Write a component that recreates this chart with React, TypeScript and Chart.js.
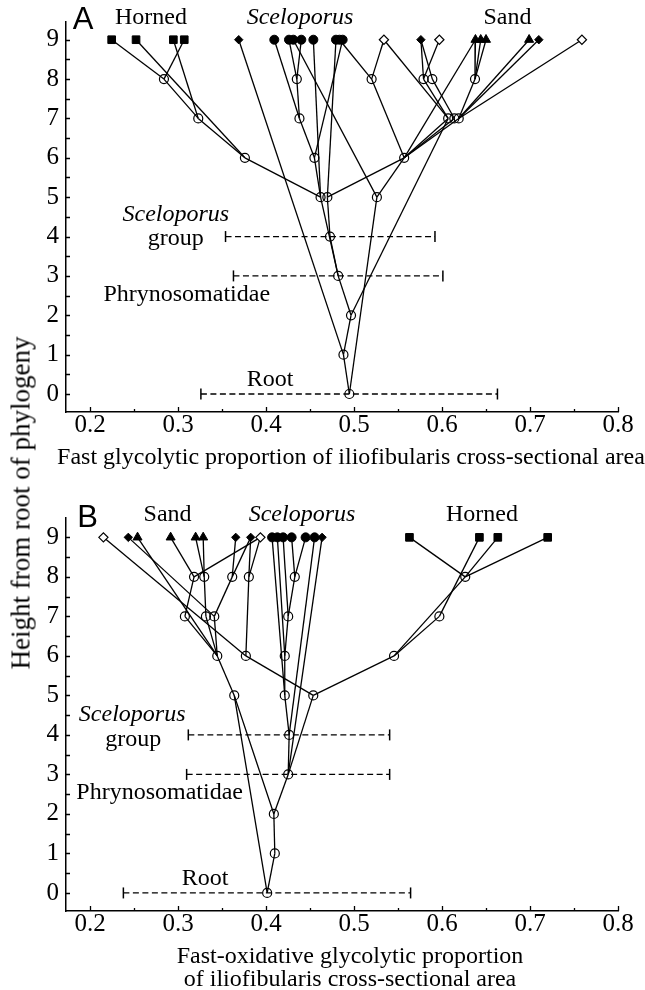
import React, { useEffect, useRef } from "react";
import { Chart, registerables } from "chart.js";

Chart.register(...registerables);

const SERIF = '"Liberation Serif", "Times New Roman", serif';
const SANS = '"Liberation Sans", Arial, sans-serif';

// ---------------- Panel A : fast glycolytic ----------------
const tipXA = [0.2246, 0.2523, 0.2947, 0.3071, 0.369, 0.4094, 0.4261, 0.431, 0.4401, 0.4538, 0.4795, 0.4835, 0.4871, 0.534, 0.576, 0.597, 0.638, 0.644, 0.65, 0.699, 0.71, 0.759];
const tipKindA = ["sq", "sq", "sq", "sq", "fd", "fc", "fc", "fc", "fc", "fc", "fc", "fc", "fc", "od", "fd", "od", "tri", "tri", "tri", "tri", "fd", "od"];
const innerXA = [0.284, 0.435, 0.52, 0.579, 0.589, 0.6375, 0.323, 0.438, 0.607, 0.614, 0.619, 0.376, 0.455, 0.557, 0.462, 0.4697, 0.526, 0.4727, 0.482, 0.4966, 0.488, 0.4947];
const innerHA = [8, 8, 8, 8, 8, 8, 7, 7, 7, 7, 7, 6, 6, 6, 5, 5, 5, 4, 3, 2, 1, 0];
const edgesA = [
  [0, 22], [3, 22], [22, 28], [2, 28], [28, 33], [1, 33], [33, 36],
  [4, 42],
  [5, 29], [6, 23], [8, 23], [23, 29], [29, 34], [12, 34], [34, 36], [9, 36],
  [10, 37], [7, 38], [11, 24], [13, 24], [24, 35], [13, 30],
  [14, 25], [15, 25], [14, 26], [25, 30], [26, 31],
  [16, 27], [17, 27], [18, 27], [27, 32], [16, 35],
  [19, 32], [20, 32], [21, 32],
  [30, 35], [31, 35], [32, 35],
  [35, 37], [35, 38], [30, 41], [38, 43],
  [37, 39], [39, 40], [36, 40], [40, 41], [41, 42], [42, 43],
];
const barYA = [4, 3, 0];
const barLoA = [0.354, 0.363, 0.326];
const barHiA = [0.592, 0.601, 0.663];
const labelTextA = ["A", "Horned", "Sceloporus", "Sand", "Sceloporus", "group", "Phrynosomatidae", "Root"];
const labelXA = [0.192, 0.2693, 0.4386, 0.6744, 0.2975, 0.2975, 0.3099, 0.4045];
const labelYA = [9.477, 9.555, 9.555, 9.555, 4.552, 3.935, 2.521, 0.363];
const labelStyleA = ["sans", "serif", "italic", "serif", "italic", "serif", "serif", "serif"];

// ---------------- Panel B : fast-oxidative glycolytic ----------------
const tipXB = [0.2152, 0.2435, 0.254, 0.2916, 0.32, 0.3286, 0.3656, 0.3826, 0.3936, 0.4069, 0.4129, 0.4194, 0.4291, 0.445, 0.4552, 0.4637, 0.563, 0.6425, 0.6634, 0.7201];
const tipKindB = ["od", "fd", "tri", "tri", "tri", "tri", "fd", "fd", "od", "fc", "fc", "fc", "fc", "fc", "fc", "fd", "sq", "sq", "sq", "sq"];
const innerXB = [0.3182, 0.3298, 0.3616, 0.3805, 0.4327, 0.6264, 0.3078, 0.3317, 0.3412, 0.4252, 0.597, 0.3446, 0.3771, 0.4213, 0.5455, 0.3639, 0.4213, 0.4537, 0.4263, 0.4252, 0.4089, 0.41, 0.4013];
const innerHB = [8, 8, 8, 8, 8, 8, 7, 7, 7, 7, 7, 6, 6, 6, 6, 5, 5, 5, 4, 3, 2, 1, 0];
const edgesB = [
  [0, 32], [1, 28], [2, 31], [3, 20], [8, 20], [20, 26], [4, 21], [5, 21], [21, 27],
  [6, 22], [7, 22], [22, 28], [7, 23], [8, 23], [23, 32],
  [26, 31], [27, 31], [28, 31], [31, 35], [32, 37],
  [12, 24], [13, 24], [24, 29], [11, 29], [29, 33], [10, 33], [33, 36], [9, 36], [36, 38],
  [14, 38], [15, 39],
  [16, 25], [18, 25], [19, 25], [25, 34], [17, 30], [30, 34], [34, 37], [37, 39],
  [38, 39], [39, 40], [35, 40], [35, 42], [40, 41], [41, 42],
];
const barYB = [4, 3, 0];
const barLoB = [0.3117, 0.3098, 0.2379];
const barHiB = [0.5405, 0.5405, 0.5643];
const labelTextB = ["B", "Sand", "Sceloporus", "Horned", "Sceloporus", "group", "Phrynosomatidae", "Root"];
const labelXB = [0.1972, 0.2881, 0.4409, 0.6454, 0.2479, 0.2492, 0.2791, 0.3307];
const labelYB = [9.485, 9.586, 9.586, 9.586, 4.51, 3.876, 2.53, 0.373];
const labelStyleB = ["sans", "serif", "italic", "serif", "italic", "serif", "serif", "serif"];

// shared axis ticks
const xMajor = [0.2, 0.3, 0.4, 0.5, 0.6, 0.7, 0.8];
const xMinor = [0.25, 0.35, 0.45, 0.55, 0.65, 0.75];
const yMajor = [0, 1, 2, 3, 4, 5, 6, 7, 8, 9];
const yMinor = [0.5, 1.5, 2.5, 3.5, 4.5, 5.5, 6.5, 7.5, 8.5];

const markerStyles: Record<string, any> = {
  sq: { pointStyle: "rect", pointRadius: 5.4, pointBackgroundColor: "#000", pointBorderColor: "#000", pointBorderWidth: 1 },
  fc: { pointStyle: "circle", pointRadius: 4.5, pointBackgroundColor: "#000", pointBorderColor: "#000", pointBorderWidth: 1 },
  fd: { pointStyle: "rectRot", pointRadius: 4.2, pointBackgroundColor: "#000", pointBorderColor: "#000", pointBorderWidth: 1 },
  od: { pointStyle: "rectRot", pointRadius: 4.6, pointBackgroundColor: "#fff", pointBorderColor: "#000", pointBorderWidth: 1.2 },
  tri: { pointStyle: "triangle", pointRadius: 5.2, pointBackgroundColor: "#000", pointBorderColor: "#000", pointBorderWidth: 1 },
  oc: { pointStyle: "circle", pointRadius: 4.5, pointBackgroundColor: "rgba(0,0,0,0)", pointBorderColor: "#000", pointBorderWidth: 1.2 },
};

function buildConfig(p: any) {
  const nodeX = [...p.tipX, ...p.innerX];
  const nodeH = [...p.tipX.map(() => 9), ...p.innerH];
  const kinds = [...p.tipKind, ...p.innerX.map(() => "oc")];

  const markerSets = Object.keys(markerStyles).map((k) => ({
    label: k,
    data: nodeX.map((x: number, i: number) => ({ x, y: nodeH[i] })).filter((_: any, i: number) => kinds[i] === k),
    showLine: false,
    order: 0,
    ...markerStyles[k],
  }));

  const edgeSets = p.edges.map((e: number[]) => ({
    label: "edge",
    data: [
      { x: nodeX[e[0]], y: nodeH[e[0]] },
      { x: nodeX[e[1]], y: nodeH[e[1]] },
    ],
    showLine: true,
    borderColor: "#000",
    borderWidth: 1.3,
    pointRadius: 0,
    order: 2,
  }));

  const barSets = p.barY.map((yv: number, i: number) => ({
    label: "ci",
    data: [
      { x: p.barLo[i], y: yv },
      { x: p.barHi[i], y: yv },
    ],
    showLine: true,
    borderColor: "#000",
    borderWidth: 1.3,
    borderDash: [6, 3.5],
    pointStyle: "line",
    pointRotation: 90,
    pointRadius: 5.5,
    pointBorderWidth: 1.5,
    pointBorderColor: "#000",
    order: 1,
  }));

  const textPlugin = {
    id: "panelText",
    afterDraw(chart: any) {
      const { ctx, scales } = chart;
      ctx.save();
      ctx.fillStyle = "#000";
      ctx.textAlign = "center";
      ctx.textBaseline = "middle";
      p.labelText.forEach((t: string, i: number) => {
        const st = p.labelStyle[i];
        ctx.font = st === "sans" ? `31px ${SANS}` : st === "italic" ? `italic 24px ${SERIF}` : `24px ${SERIF}`;
        ctx.fillText(t, scales.x.getPixelForValue(p.labelX[i]), scales.y.getPixelForValue(p.labelY[i]));
      });
      ctx.restore();
    },
  };

  const tickPlugin = {
    id: "innerTicks",
    afterDraw(chart: any) {
      const { ctx, chartArea: ca, scales } = chart;
      ctx.save();
      ctx.strokeStyle = "#000";
      ctx.lineWidth = 1.3;
      ctx.beginPath();
      xMajor.forEach((v) => {
        const px = Math.round(scales.x.getPixelForValue(v)) + 0.5;
        ctx.moveTo(px, ca.bottom);
        ctx.lineTo(px, ca.bottom - 5);
      });
      xMinor.forEach((v) => {
        const px = Math.round(scales.x.getPixelForValue(v)) + 0.5;
        ctx.moveTo(px, ca.bottom);
        ctx.lineTo(px, ca.bottom - 3);
      });
      [...yMajor, ...yMinor].forEach((v) => {
        const py = Math.round(scales.y.getPixelForValue(v)) + 0.5;
        ctx.moveTo(ca.left, py);
        ctx.lineTo(ca.left + 4, py);
      });
      ctx.stroke();
      ctx.restore();
    },
  };

  return {
    type: "scatter",
    data: { datasets: [...markerSets, ...barSets, ...edgeSets] },
    options: {
      animation: false,
      responsive: false,
      maintainAspectRatio: false,
      events: [],
      layout: { padding: { top: p.padTop, right: 27, left: 0, bottom: 0 } },
      plugins: { legend: { display: false }, tooltip: { enabled: false }, title: { display: false } },
      scales: {
        x: {
          type: "linear",
          min: 0.1727,
          max: 0.8,
          afterBuildTicks: (s: any) => {
            s.ticks = xMajor.map((v) => ({ value: v }));
          },
          afterFit: (s: any) => {
            s.height = 33;
          },
          ticks: {
            autoSkip: false,
            maxRotation: 0,
            padding: 1,
            color: "#000",
            font: { family: SERIF, size: 25, lineHeight: 1 },
            callback: (v: any) => Number(v).toFixed(1),
          },
          grid: { display: false, drawTicks: false },
          border: { display: true, color: "#000", width: 1.5 },
        },
        y: {
          type: "linear",
          min: p.yMin,
          max: p.yMax,
          afterBuildTicks: (s: any) => {
            s.ticks = yMajor.map((v) => ({ value: v }));
          },
          afterFit: (s: any) => {
            s.width = 66;
          },
          ticks: {
            autoSkip: false,
            padding: 7,
            color: "#000",
            font: { family: SERIF, size: 25, lineHeight: 1 },
            callback: (v: any) => String(v),
          },
          grid: { display: false, drawTicks: false },
          border: { display: true, color: "#000", width: 1.5 },
        },
      },
    },
    plugins: [textPlugin, tickPlugin],
  };
}

const panelA = {
  tipX: tipXA, tipKind: tipKindA, innerX: innerXA, innerH: innerHA, edges: edgesA,
  barY: barYA, barLo: barLoA, barHi: barHiA,
  labelText: labelTextA, labelX: labelXA, labelY: labelYA, labelStyle: labelStyleA,
  yMin: -0.457, yMax: 9.45, padTop: 22,
};
const panelB = {
  tipX: tipXB, tipKind: tipKindB, innerX: innerXB, innerH: innerHB, edges: edgesB,
  barY: barYB, barLo: barLoB, barHi: barHiB,
  labelText: labelTextB, labelX: labelXB, labelY: labelYB, labelStyle: labelStyleB,
  yMin: -0.457, yMax: 9.49, padTop: 38,
};

function Panel({ cfg, top, height }: { cfg: any; top: number; height: number }) {
  const ref = useRef<HTMLCanvasElement>(null);
  useEffect(() => {
    const chart = new Chart(ref.current as HTMLCanvasElement, buildConfig(cfg) as any);
    return () => chart.destroy();
  }, [cfg]);
  return (
    <canvas
      ref={ref}
      width={645}
      height={height}
      style={{ position: "absolute", left: 0, top, width: 645, height }}
    />
  );
}

const textStyle: React.CSSProperties = {
  position: "absolute",
  fontFamily: SERIF,
  fontSize: 24,
  lineHeight: "24px",
  whiteSpace: "nowrap",
  color: "#000",
  transform: "translate(-50%, -50%)",
};

export default function App() {
  return (
    <div style={{ position: "absolute", left: 0, top: 0, width: 645, height: 990, background: "#fff", overflow: "hidden" }}>
      <Panel cfg={panelA} top={0} height={445} />
      <Panel cfg={panelB} top={480} height={464} />
      <div style={{ ...textStyle, left: 21, top: 503, fontSize: 27, lineHeight: "27px", transform: "translate(-50%, -50%) rotate(-90deg)" }}>
        Height from root of phylogeny
      </div>
      <div style={{ ...textStyle, left: 351, top: 456 }}>
        Fast glycolytic proportion of iliofibularis cross-sectional area
      </div>
      <div style={{ ...textStyle, left: 350, top: 955 }}>Fast-oxidative glycolytic proportion</div>
      <div style={{ ...textStyle, left: 350, top: 978 }}>of iliofibularis cross-sectional area</div>
    </div>
  );
}
